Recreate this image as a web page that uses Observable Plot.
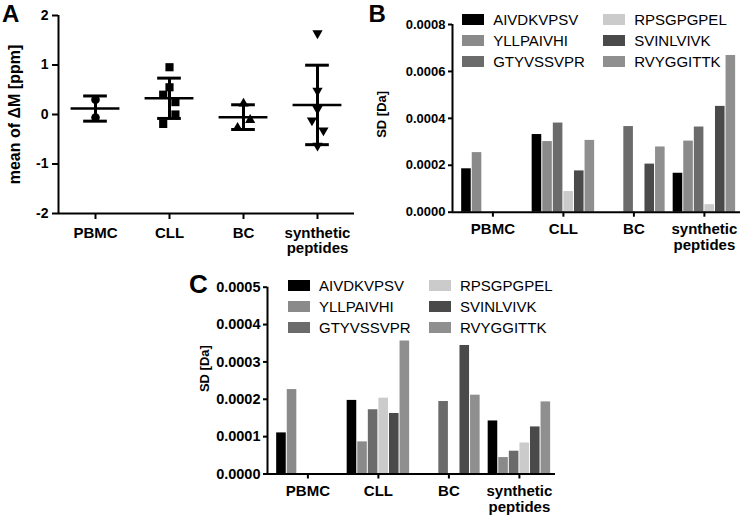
<!DOCTYPE html>
<html>
<head>
<meta charset="utf-8">
<script src="https://cdn.jsdelivr.net/npm/d3@7"></script>
<script src="https://cdn.jsdelivr.net/npm/@observablehq/plot@0.6"></script>
<style>
  body { margin: 0; background: #fff; }
  #root { position: relative; width: 740px; height: 515px; overflow: hidden; font-family: "Liberation Sans", Arial, sans-serif; color: #000; }
  .panel { position: absolute; }
  .letter { position: absolute; font-weight: bold; line-height: 1; }
  .legend { position: absolute; display: grid; grid-auto-flow: column; grid-template-rows: repeat(3, 21px); grid-template-columns: 141px 141px; }
  .legend .item { display: flex; align-items: center; font-size: 15px; white-space: nowrap; }
  .legend .sw { width: 22px; height: 11px; margin-right: 9.5px; flex: none; }
</style>
</head>
<body>
<div id="root"></div>
<script>
// ---------------- data ----------------
const groups = ["PBMC", "CLL", "BC", "synthetic peptides"];
const groupTickLabels = ["PBMC", "CLL", "BC", "synthetic\npeptides"];

// Panel A: mean of ΔM [ppm] per peptide, by sample type
const pbmcDeltaM = [0.30, -0.06];
const cllDeltaM = [0.955, 0.55, 0.40, 0.25, 0.00, -0.19];
const bcDeltaM = [0.22, -0.11, -0.27];
const syntheticDeltaM = [1.64, 0.48, 0.11, -0.12, -0.32, -0.63];
// horizontal scatter of the points (fraction of a category step)
const pbmcSpread = [0, 0];
const cllSpread = [0, 0, -0.085, 0.08, 0.08, -0.085];
const bcSpread = [0, 0.09, -0.08];
const syntheticSpread = [0, 0, 0, -0.075, 0.08, 0];
const deltaMTicks = [-2, -1, 0, 1, 2];

// Panels B and C: SD [Da] per peptide
const peptides = ["AIVDKVPSV", "YLLPAIVHI", "GTYVSSVPR", "RPSGPGPEL", "SVINLVIVK", "RVYGGITTK"];
const peptideColors = ["#000000", "#8a8a8a", "#6b6b6b", "#cbcbcb", "#4a4a4a", "#8f8f8f"];

const sdTicksB = [0, 0.0002, 0.0004, 0.0006, 0.0008];
const sdB_PBMC = [0.000185, 0.000254, null, null, null, null];
const sdB_CLL = [0.000331, 0.000301, 0.000380, 0.000088, 0.000176, 0.000306];
const sdB_BC = [null, null, 0.000365, null, 0.000205, 0.000278];
const sdB_synthetic = [0.000166, 0.000303, 0.000363, 0.000032, 0.000451, 0.000668];

const sdTicksC = [0, 0.0001, 0.0002, 0.0003, 0.0004, 0.0005];
const sdC_PBMC = [0.000110, 0.000226, null, null, null, null];
const sdC_CLL = [0.000197, 0.000086, 0.000172, 0.000203, 0.000162, 0.000356];
const sdC_BC = [null, null, 0.000194, null, 0.000344, 0.000211];
const sdC_synthetic = [0.000142, 0.000044, 0.000061, 0.000083, 0.000126, 0.000193];

// ---------------- helpers ----------------
const FONT = "'Liberation Sans', Arial, sans-serif";
const root = document.getElementById("root");
function place(el, left, top) {
  el.classList.add("panel");
  el.style.left = left + "px";
  el.style.top = top + "px";
  root.appendChild(el);
}
function letter(txt, left, top, size) {
  const d = document.createElement("div");
  d.className = "letter";
  d.textContent = txt;
  d.style.left = left + "px"; d.style.top = top + "px"; d.style.fontSize = size + "px";
  root.appendChild(d);
}
function legend(left, top) {
  const d = document.createElement("div");
  d.className = "legend";
  d.style.left = left + "px"; d.style.top = top + "px";
  peptides.forEach((p, i) => {
    const it = document.createElement("div"); it.className = "item";
    const sw = document.createElement("span"); sw.className = "sw"; sw.style.background = peptideColors[i];
    const t = document.createElement("span"); t.textContent = p;
    it.appendChild(sw); it.appendChild(t); d.appendChild(it);
  });
  root.appendChild(d);
}

// ---------------- Panel A ----------------
const triangleDown = {
  draw(context, size) {
    const y = -Math.sqrt(size / (Math.sqrt(3) * 3));
    context.moveTo(0, -y * 2);
    context.lineTo(-Math.sqrt(3) * y, y);
    context.lineTo(Math.sqrt(3) * y, y);
    context.closePath();
  }
};
const seriesA = [
  {values: pbmcDeltaM, spread: pbmcSpread, symbol: "circle", r: 4.3},
  {values: cllDeltaM, spread: cllSpread, symbol: "square", r: 4.6},
  {values: bcDeltaM, spread: bcSpread, symbol: "triangle", r: 3.8},
  {values: syntheticDeltaM, spread: syntheticSpread, symbol: triangleDown, r: 3.8}
];
const pointsA = seriesA.map((s, i) => s.values.map((v, j) => ({i, x: i + s.spread[j], y: v})));
const statsA = seriesA.map((s, i) => {
  const m = d3.mean(s.values), sd = d3.deviation(s.values);
  return {i, mean: m, lo: m - sd, hi: m + sd};
});

const panelA = Plot.plot({
  width: 360, height: 260,
  marginLeft: 58, marginRight: 6, marginTop: 15, marginBottom: 47,
  style: {fontFamily: FONT, fontSize: "14px", fontWeight: "bold", color: "#000", background: "transparent", overflow: "visible"},
  x: {domain: [-0.5, 3.5]},
  y: {domain: [-2, 2]},
  marks: [
    Plot.ruleY([-2], {strokeWidth: 2}),
    Plot.ruleX([-0.5], {strokeWidth: 2}),
    Plot.axisY({ticks: deltaMTicks, tickFormat: d => String(d), tickSize: 6, tickPadding: 4, strokeWidth: 2, fontSize: 14, label: null}),
    Plot.axisX({ticks: [0, 1, 2, 3], tickFormat: i => groupTickLabels[i], tickSize: 6, tickPadding: 7, strokeWidth: 2, fontSize: 15, lineHeight: 1.05, label: null}),
    Plot.text(["mean of ΔM [ppm]"], {text: d => d, frameAnchor: "left", textAnchor: "middle", rotate: -90, dx: -44, fontSize: 16}),
    ...seriesA.map((s, i) => Plot.dot(pointsA[i], {x: "x", y: "y", symbol: s.symbol, r: s.r, fill: "#000", stroke: "none"})),
    Plot.ruleY(statsA, {y: "mean", x1: d => d.i - 0.33, x2: d => d.i + 0.33, strokeWidth: 2.5}),
    Plot.ruleX(statsA, {x: "i", y1: "lo", y2: "hi", strokeWidth: 3}),
    Plot.ruleY(statsA, {y: "hi", x1: d => d.i - 0.16, x2: d => d.i + 0.16, strokeWidth: 3}),
    Plot.ruleY(statsA, {y: "lo", x1: d => d.i - 0.16, x2: d => d.i + 0.16, strokeWidth: 3})
  ]
});
place(panelA, 0, 0);
letter("A", 2, 2, 24);

// ---------------- Panels B and C ----------------
const BAR_W = 0.15;            // width of one bar, in category steps
const X_DOMAIN = [-0.573, 3.512];
function barPanel({series, ticks, yMax, height, marginLeft, marginRight, marginTop, marginBottom, tickFont, labelFont, labelDx, labelDy}) {
  const rows = [];
  series.forEach((vals, g) => vals.forEach((v, p) => {
    if (v != null) rows.push({g, p, peptide: peptides[p], value: v});
  }));
  return Plot.plot({
    width: 370, height,
    marginLeft, marginRight, marginTop, marginBottom,
    style: {fontFamily: FONT, fontSize: tickFont + "px", fontWeight: "bold", color: "#000", background: "transparent", overflow: "visible"},
    x: {domain: X_DOMAIN},
    y: {domain: [0, yMax]},
    color: {domain: peptides, range: peptideColors},
    marks: [
      Plot.rect(rows, {
        x1: d => d.g + (d.p - 3) * BAR_W, x2: d => d.g + (d.p - 2) * BAR_W,
        y1: 0, y2: "value", fill: "peptide", insetLeft: 0.5, insetRight: 0.5
      }),
      Plot.ruleY([0], {strokeWidth: 2}),
      Plot.ruleX([X_DOMAIN[0]], {strokeWidth: 2}),
      Plot.axisY({ticks, tickFormat: d3.format(".4f"), tickSize: 4, tickPadding: 3, strokeWidth: 2, fontSize: tickFont, label: null}),
      Plot.axisX({ticks: [0, 1, 2, 3], tickFormat: i => groupTickLabels[i], tickSize: 5, tickPadding: 6, strokeWidth: 2, fontSize: 15, lineHeight: 1.05, label: null}),
      Plot.text(["SD [Da]"], {text: d => d, frameAnchor: "left", textAnchor: "middle", rotate: -90, dx: labelDx, dy: labelDy, fontSize: labelFont})
    ]
  });
}

const panelB = barPanel({
  series: [sdB_PBMC, sdB_CLL, sdB_BC, sdB_synthetic], ticks: sdTicksB, yMax: 0.0008,
  height: 260, marginLeft: 82, marginRight: 0, marginTop: 24, marginBottom: 48.3,
  tickFont: 13, labelFont: 13, labelDx: -70.5, labelDy: -4
});
place(panelB, 370, 0);
letter("B", 368.5, 2, 24);
legend(461.7, 9);

const panelC = barPanel({
  series: [sdC_PBMC, sdC_CLL, sdC_BC, sdC_synthetic], ticks: sdTicksC, yMax: 0.0005,
  height: 255, marginLeft: 77, marginRight: 5, marginTop: 26.7, marginBottom: 41.5,
  tickFont: 14.5, labelFont: 13, labelDx: -63, labelDy: -12
});
place(panelC, 190, 260);
letter("C", 189, 271, 26);
legend(287.5, 274.5);
</script>
</body>
</html>
